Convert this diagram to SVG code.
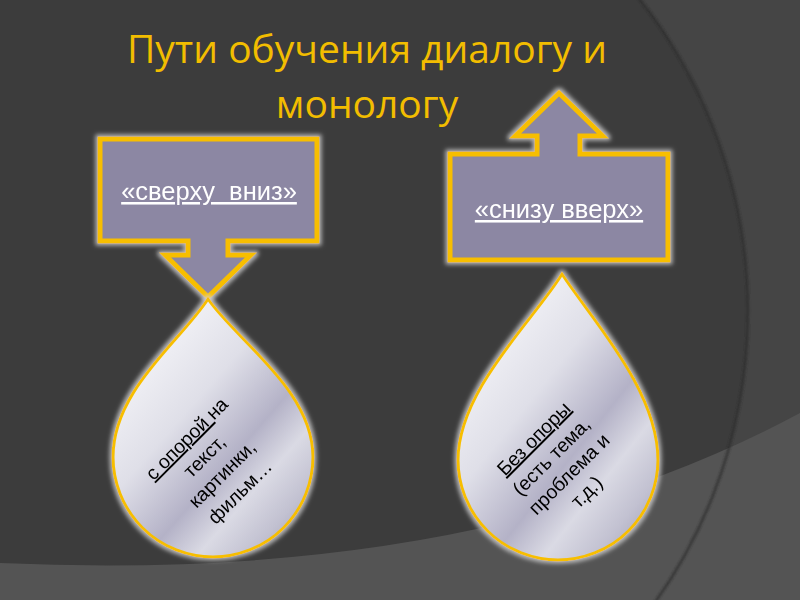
<svg xmlns="http://www.w3.org/2000/svg" width="800" height="600" viewBox="0 0 800 600">
<defs>
<style>
.title{font-family:"Open Sans","Noto Sans",sans-serif;font-size:39px;fill:#f2bd00;text-anchor:middle}
.box{fill:#8c87a3;stroke:#f7be00;stroke-width:5;stroke-linejoin:miter}
.boxtxt{font-family:"Liberation Sans",Arial,sans-serif;font-size:25.5px;fill:#ffffff;text-anchor:middle;text-decoration:underline}
.drop{fill:url(#metal);stroke:#f7be00;stroke-width:3}
.droptxt{font-family:"Liberation Sans",Arial,sans-serif;font-size:19.5px;fill:#000000;text-anchor:middle}
</style>
<linearGradient id="metal" x1="0.15" y1="0.1" x2="0.9" y2="0.95">
<stop offset="0" stop-color="#f7f7fa"/>
<stop offset="0.35" stop-color="#dfdfe8"/>
<stop offset="0.6" stop-color="#b4b2c7"/>
<stop offset="0.75" stop-color="#dadae4"/>
<stop offset="0.9" stop-color="#c2c1d1"/>
<stop offset="1" stop-color="#aba9bd"/>
</linearGradient>
<filter id="glow" x="-20%" y="-20%" width="140%" height="140%">
<feMorphology in="SourceAlpha" operator="dilate" radius="1.5" result="d"/>
<feGaussianBlur in="d" stdDeviation="2" result="b"/>
<feFlood flood-color="#d4d4d4" flood-opacity="0.8"/>
<feComposite in2="b" operator="in" result="g"/>
<feMerge><feMergeNode in="g"/><feMergeNode in="SourceGraphic"/></feMerge>
</filter>
<filter id="soft" x="-10%" y="-10%" width="120%" height="120%">
<feGaussianBlur stdDeviation="1.2"/>
</filter>
</defs>

<g id="background">
<rect x="0" y="0" width="800" height="600" fill="#454545"/>
<circle cx="245" cy="311" r="503" fill="#3c3c3c"/>
<path d="M0,563 Q480,585 800,413 L800,600 L0,600 Z" fill="#545454"/>
<circle cx="245" cy="311" r="503" fill="none" stroke="#2e2e2e" stroke-width="2.5" filter="url(#soft)" opacity="0.8"/>
</g>

<g id="title">
<text class="title" x="367" y="63">Пути обучения диалогу и</text>
<text class="title" x="367" y="118">монологу</text>
</g>

<g id="connectors"></g>

<g id="box-top-down" filter="url(#glow)">
<path class="box" d="M100,139 H317 V241 H228 V255 H251 L208,297 L165,255 H188 V241 H100 Z"/>
<text class="boxtxt" x="209" y="200" xml:space="preserve">«сверху  вниз»</text>
</g>

<g id="box-bottom-up" filter="url(#glow)">
<path class="box" d="M450,154 H537 V136 H515 L559,93 L603,136 H580 V154 H668 V260 H450 Z"/>
<text class="boxtxt" x="559" y="218">«снизу вверх»</text>
</g>

<g id="drop-left" filter="url(#glow)">
<path class="drop" d="M208,299 C238,342 313,390 313,457 A100,100 0 0 1 113,457 C113,390 180,342 208,299 Z"/>
<g transform="translate(214,466) rotate(-45)">
<text class="droptxt" x="0" y="-32"><tspan text-decoration="underline">с опорой </tspan>на</text>
<text class="droptxt" x="0" y="-7">текст,</text>
<text class="droptxt" x="0" y="18">картинки,</text>
<text class="droptxt" x="0" y="43">фильм…</text>
</g>
</g>

<g id="drop-right" filter="url(#glow)">
<path class="drop" d="M562,274 C592,320 658,390 658,460 A100,100 0 0 1 458,460 C458,390 534,320 562,274 Z"/>
<g transform="translate(561,466) rotate(-45)">
<text class="droptxt" x="0" y="-32" text-decoration="underline">Без опоры</text>
<text class="droptxt" x="0" y="-7">(есть тема,</text>
<text class="droptxt" x="0" y="18">проблема и</text>
<text class="droptxt" x="0" y="43">т.д.)</text>
</g>
</g>
</svg>
